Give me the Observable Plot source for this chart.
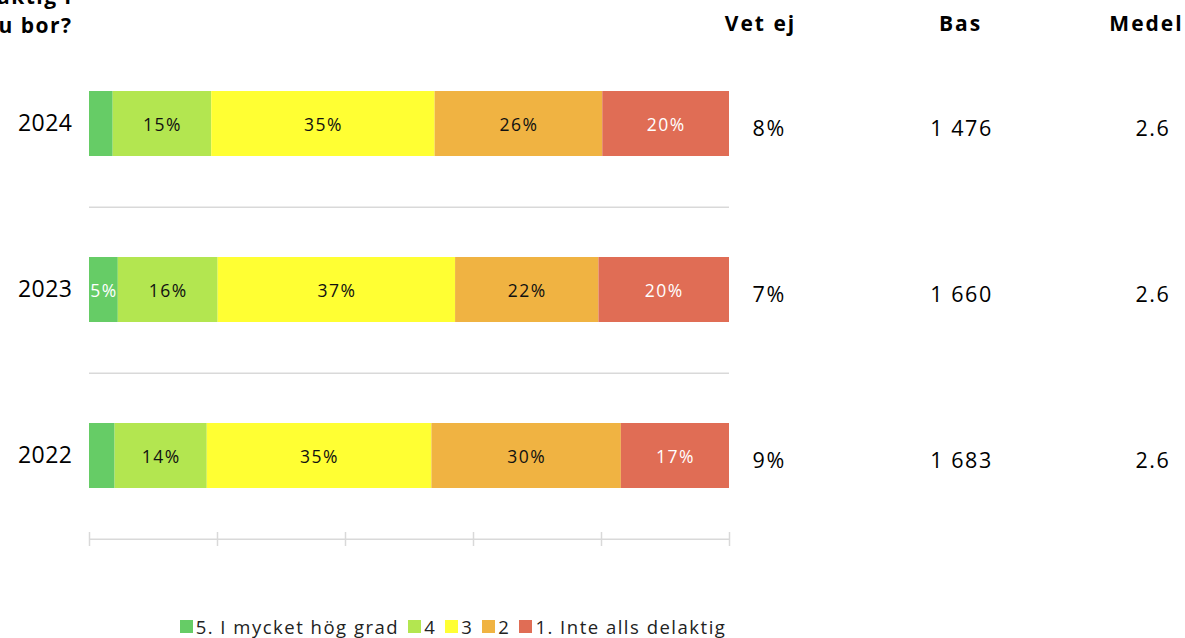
<!DOCTYPE html>
<html><head><meta charset="utf-8">
<script src="https://cdn.jsdelivr.net/npm/d3@7"></script>
<script src="https://cdn.jsdelivr.net/npm/@observablehq/plot@0.6"></script>
<style>
body{margin:0;background:#fff;font-family:"Open Sans",sans-serif;overflow:hidden;}
#chart svg text{letter-spacing:1.5px}
#chart svg g[aria-label="y-axis tick label"] text{letter-spacing:0.5px}
#legend{display:flex;justify-content:center;align-items:center;height:23px;font-size:18.5px;letter-spacing:1.5px;color:#222;padding-right:270px}
#legend .item{display:flex;align-items:center;margin-right:9px}
#legend .sw{width:13px;height:13px;margin-right:3px}
</style></head><body>
<div id="chart"></div>
<div id="legend"></div>
<script>
const years = ["2024", "2023", "2022"];
const categories = ["5. I mycket hög grad", "4", "3", "2", "1. Inte alls delaktig"];
const colors = ["#66cc66", "#b3e650", "#ffff33", "#f0b342", "#e06d55"];
const v5 = [3.7, 4.5, 4.0];
const v4 = [15.4, 15.6, 14.4];
const v3 = [34.9, 37.1, 35.1];
const v2 = [26.2, 22.4, 29.6];
const v1 = [19.8, 20.4, 16.9];
const vetEj = [8, 7, 9];
const bas = ["1 476", "1 660", "1 683"];
const medel = ["2.6", "2.6", "2.6"];
const headers = ["Vet ej", "Bas", "Medel"];
const titleLines = ["I vilken grad känner du dig delaktig i", "utvecklingen i området där du bor?"];
const xTicks = [0, 20, 40, 60, 80, 100];

const series = [v5, v4, v3, v2, v1];
const table = [];
categories.forEach((c, i) => years.forEach((y, j) => table.push({year: y, category: c, value: series[i][j], ci: i})));
const rows = years.map((y, j) => ({year: y, vetEj: vetEj[j] + "%", bas: bas[j], medel: medel[j]}));

const H = 615, MT = 40, MB = 76;
const pIn = 0.61, pOut = 0.305;
const step = (H - MT - MB) / (years.length - pIn + 2 * pOut);

const headerDx = [31, 231, 417];
const showLabel = d => Math.round(d.value) >= 5;

const plot = Plot.plot({
  width: 1185, height: H,
  marginTop: MT, marginBottom: MB, marginLeft: 89, marginRight: 456,
  style: {fontFamily: "Open Sans", fontSize: "18px", color: "#000", overflow: "visible", background: "#fff"},
  x: {domain: [0, 100], axis: null, label: null},
  y: {domain: years, paddingInner: pIn, paddingOuter: pOut, axis: null, label: null},
  color: {domain: categories, range: colors},
  marks: [
    Plot.ruleY(years, {y: d => d, x1: () => 0, x2: () => 100, dy: step / 2, stroke: "#d9d9d9", strokeWidth: 1.5}),
    Plot.axisX({ticks: xTicks, tickSize: 14, dy: -7, tickFormat: () => "", label: null, stroke: "#d9d9d9", strokeWidth: 1.5}),
    Plot.barX(table, Plot.stackX({x: "value", y: "year", fill: "category", z: "category"})),
    Plot.text(table, Plot.stackX({x: "value", y: "year", z: "category",
      text: d => (showLabel(d) && d.ci >= 1 && d.ci <= 3) ? Math.round(d.value) + "%" : null, fill: "#111", fontSize: 17.5, dy: 1})),
    Plot.text(table, Plot.stackX({x: "value", y: "year", z: "category",
      text: d => (showLabel(d) && (d.ci === 0 || d.ci === 4)) ? Math.round(d.value) + "%" : null, fill: "#fff", fontSize: 17.5, dy: 1})),
    Plot.axisY({tickSize: 0, tickPadding: 17, fontSize: 23, label: null, color: "#000"}),
    Plot.text(rows, {x: () => 100, y: "year", text: "vetEj", dx: 23, dy: 5, textAnchor: "start", fontSize: 21.5}),
    Plot.text(rows, {x: () => 100, y: "year", text: "bas", dx: 232, dy: 5, textAnchor: "middle", fontSize: 21.5}),
    Plot.text(rows, {x: () => 100, y: "year", text: "medel", dx: 441, dy: 5, textAnchor: "end", fontSize: 21.5}),
    ...headers.map((h, i) => Plot.text([h], {frameAnchor: "top", x: () => 100, text: d => d, dx: headerDx[i], dy: -24, textAnchor: "middle", fontWeight: "bold", fontSize: 21})),
    Plot.text([titleLines[0]], {frameAnchor: "top", x: () => 0, text: d => d, dx: -17, dy: -51, textAnchor: "end", fontWeight: "bold", fontSize: 21}),
    Plot.text([titleLines[1]], {frameAnchor: "top", x: () => 0, text: d => d, dx: -17, dy: -22, textAnchor: "end", fontWeight: "bold", fontSize: 21})
  ]
});
const valueTexts = new Set([...rows.map(r => r.vetEj), ...bas, ...medel]);
const headerTexts = new Set(headers);
d3.select(plot).selectAll("text").each(function() {
  const t = this.textContent;
  if (valueTexts.has(t)) this.style.letterSpacing = "1.6px";
  else if (headerTexts.has(t)) this.style.letterSpacing = "2px";
});
document.getElementById("chart").appendChild(plot);

const legend = d3.select("#legend");
categories.forEach((c, i) => {
  const it = legend.append("div").attr("class", "item");
  it.append("div").attr("class", "sw").style("background", colors[i]);
  it.append("span").text(c);
});
</script>
</body></html>
